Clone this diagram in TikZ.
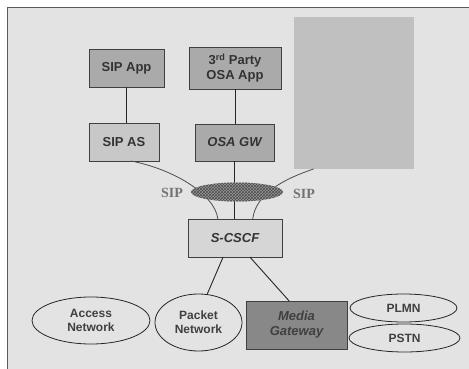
\documentclass[tikz,border=0pt]{standalone}
\usepackage{fontspec}
\setmainfont{Liberation Sans}
\newfontfamily\labelfont{Liberation Serif}
\usetikzlibrary{shapes.geometric, patterns}

\definecolor{panelgray}{RGB}{227,227,227}
\definecolor{appgray}{RGB}{170,170,170}
\definecolor{asgray}{RGB}{200,200,200}
\definecolor{cscfgray}{RGB}{214,214,214}
\definecolor{mgwgray}{RGB}{136,136,136}
\definecolor{blankgray}{RGB}{192,192,192}

\begin{document}
\begin{tikzpicture}[x=1pt, y=-1pt,
    box/.style={draw=black!75, line width=0.9pt, inner sep=0pt, outer sep=0pt,
                align=center, text=black!80,
                font=\fontsize{13}{15}\selectfont\bfseries},
    net/.style={ellipse, draw=black!85, line width=0.8pt, fill=panelgray,
                inner sep=0pt, outer sep=0pt, align=center, text=black!75,
                font=\fontsize{12}{14}\selectfont\bfseries},
    link/.style={draw=black!85, line width=0.9pt},
    siplabel/.style={text=black!55, font=\labelfont\fontsize{14}{14}\selectfont\bfseries}]

    \useasboundingbox (0,0) rectangle (469,369);

    % Panel
    \fill[panelgray] (7,8) rectangle (469,369);
    \draw[black!65, line width=1pt] (7,369) -- (7,8) -- (469,8);

    % Blank area
    \node[fill=blankgray, minimum width=120, minimum height=152,
          inner sep=0pt, outer sep=0pt] (blank) at (354,93) {};

    % Applications
    \node[box, fill=appgray, minimum width=75, minimum height=38] (sipapp) at (126.5,68) {SIP App};
    \node[box, fill=appgray, minimum width=92, minimum height=42] (osaapp) at (235,68)
        {3\textsuperscript{rd} Party\\OSA App};

    % Servers
    \node[box, fill=asgray, minimum width=70, minimum height=38] (sipas) at (124,142) {SIP AS};
    \node[box, fill=appgray, minimum width=79, minimum height=37] (osagw) at (234.5,142.5) {\itshape OSA GW};

    % S-CSCF
    \node[box, fill=cscfgray, minimum width=94, minimum height=38] (scscf) at (235,238) {\itshape S-CSCF};

    % --------------------
    % Links
    % --------------------

    \draw[link] (sipapp.south) -- (sipapp.south |- sipas.north);
    \draw[link] (osaapp.south) -- (osaapp.south |- osagw.north);
    \draw[link] (osagw.south) -- (osagw.south |- scscf.north);

    \draw[black!70, line width=0.8pt] (sipas.-70) .. controls +(42,8) and +(-3,-25) .. (scscf.132);
    \draw[black!70, line width=0.8pt] (blank.242) .. controls +(-30,10) and +(3,-25) .. (scscf.47);

    % SIP bus
    \node[ellipse, minimum width=92, minimum height=19, inner sep=0pt,
          preaction={fill=black!40}, pattern=crosshatch, pattern color=black!70] (sipbus) at (237,192) {};
    \node[siplabel] (sipleft) at (172,193) {SIP};
    \node[siplabel] (sipright) at (304,194) {SIP};

    % Networks
    \node[net, minimum width=118, minimum height=47] (access) at (91,320.5) {Access\\Network};
    \node[net, minimum width=87, minimum height=57] (packet) at (198.5,322.5) {Packet\\Network};
    \node[box, fill=mgwgray, text=black!75, minimum width=101, minimum height=48] (mgw) at (296.5,325)
        {\itshape Media\\\itshape Gateway};
    \node[net, minimum width=107, minimum height=28] (plmn) at (403.5,308) {PLMN};
    \node[net, minimum width=111, minimum height=28] (pstn) at (404.5,338) {PSTN};

    \draw[link] (scscf.-122) -- (packet.73);
    \draw[link] (scscf.-52) -- (mgw.107);

\end{tikzpicture}
\end{document}
